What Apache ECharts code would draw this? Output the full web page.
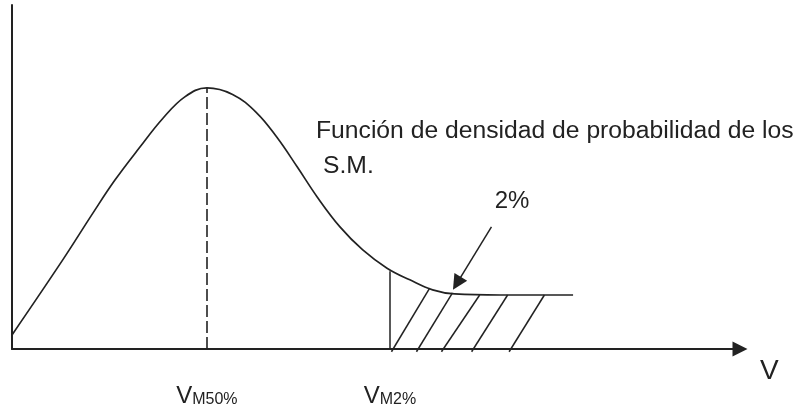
<!DOCTYPE html>
<html>
<head>
<meta charset="utf-8">
<script src="https://cdn.jsdelivr.net/npm/echarts@6/dist/echarts.min.js"></script>
<style>
  html, body { margin: 0; background: #fff; }
  #chart { width: 800px; height: 415px; }
</style>
</head>
<body>
<div id="chart"></div>
<script>
/** 密度曲线取样点，横纵轴均为相对单位，读自原图。 */
const curveX = [0, 6.9, 11.0, 14.0, 17.4, 20.5, 23.5, 26.5, 30.0, 33.3, 36.0, 38.8, 41.5,
  44.6, 47.7, 51.0, 54.1, 57.2, 60.2, 66.4, 76.3];
const curveY = [4.1, 25.9, 39.5, 49.1, 58.7, 67.0, 73.3, 75.9, 74.0, 68.6, 61.6, 52.9, 44.2,
  35.5, 28.8, 23.5, 20.1, 17.2, 16.0, 15.7, 15.7];

/** 横轴刻度：V_M50%（峰值）与 V_M2%（尾部 2%）。 */
const tickValues = [26.5, 51.4];
const tickMain = ['V', 'V'];
const tickSub = ['M50%', 'M2%'];
const peakY = 75.9;
const tailY = 22.6;

/** 尾部阴影斜线：底端横坐标、顶端横纵坐标。 */
const hatchBottomX = [51.6, 55.0, 58.4, 62.5, 67.6];
const hatchTopX = [56.8, 59.9, 63.6, 67.4, 72.4];
const hatchTopY = [17.7, 16.3, 15.7, 15.7, 15.7];

/** 指向 2% 区域的箭头起止点。 */
const arrowFrom = [65.2, 35.5];
const arrowTo = [60.5, 19.1];

const titleLines = ['Función de densidad de probabilidad de los', 'S.M.'];
const tailLabel = '2%';

(function () {
  'use strict';

  const INK = '#222';
  const FONT = '"Liberation Sans", Arial, sans-serif';
  const chart = echarts.init(document.getElementById('chart'));

  const segment = (from, to, extra) => ({ coords: [from, to], ...(extra || {}) });
  const hatches = hatchBottomX.map((x, i) =>
    segment([x, -0.8], [hatchTopX[i], hatchTopY[i]]),
  );

  chart.setOption({
    animation: false,
    backgroundColor: '#fff',
    grid: { left: 12, right: 60, top: 5, bottom: 66 },
    xAxis: {
      type: 'value',
      min: 0,
      max: 99,
      name: 'V',
      nameLocation: 'end',
      nameGap: 20,
      nameTextStyle: {
        color: INK,
        fontFamily: FONT,
        fontSize: 28,
        verticalAlign: 'top',
        padding: [8, 0, 0, 0],
      },
      axisLine: {
        symbol: ['none', 'triangle'],
        symbolSize: [15, 15],
        lineStyle: { color: INK, width: 2 },
      },
      axisTick: { show: false },
      splitLine: { show: false },
      axisLabel: {
        customValues: tickValues,
        margin: 35,
        formatter: (value) => {
          const i = tickValues.indexOf(value);
          return i < 0 ? '' : `{v|${tickMain[i]}}{s|${tickSub[i]}}`;
        },
        rich: {
          v: { fontFamily: FONT, fontSize: 24, color: INK, verticalAlign: 'bottom' },
          s: { fontFamily: FONT, fontSize: 16, color: INK, verticalAlign: 'bottom' },
        },
      },
    },
    yAxis: {
      type: 'value',
      min: 0,
      max: 100,
      axisLine: { show: true, lineStyle: { color: INK, width: 2 } },
      axisTick: { show: false },
      axisLabel: { show: false },
      splitLine: { show: false },
    },
    graphic: [
      {
        type: 'text',
        style: { text: titleLines[0], x: 316, y: 131, fill: INK,
          font: `24.7px ${FONT}`, textVerticalAlign: 'middle' },
      },
      {
        type: 'text',
        style: { text: titleLines[1], x: 323, y: 166, fill: INK,
          font: `24.7px ${FONT}`, textVerticalAlign: 'middle' },
      },
      {
        type: 'text',
        style: { text: tailLabel, x: 512, y: 201, fill: INK,
          font: `24px ${FONT}`, textAlign: 'center', textVerticalAlign: 'middle' },
      },
    ],
    series: [
      {
        type: 'line',
        data: curveX.map((x, i) => [x, curveY[i]]),
        smooth: 0.4,
        symbol: 'none',
        lineStyle: { color: INK, width: 1.7 },
      },
      {
        type: 'lines',
        coordinateSystem: 'cartesian2d',
        clip: false,
        lineStyle: { color: INK, width: 1.5, opacity: 1 },
        data: [
          segment([tickValues[0], 0], [tickValues[0], peakY], {
            lineStyle: { type: [12, 4], width: 1.6 },
          }),
          segment([tickValues[1], 0], [tickValues[1], tailY]),
          ...hatches,
        ],
      },
      {
        type: 'lines',
        coordinateSystem: 'cartesian2d',
        symbol: ['none', 'triangle'],
        symbolSize: [12, 15],
        lineStyle: { color: INK, width: 1.5, opacity: 1 },
        data: [segment(arrowFrom, arrowTo)],
      },
    ],
  });
})();
</script>
</body>
</html>
